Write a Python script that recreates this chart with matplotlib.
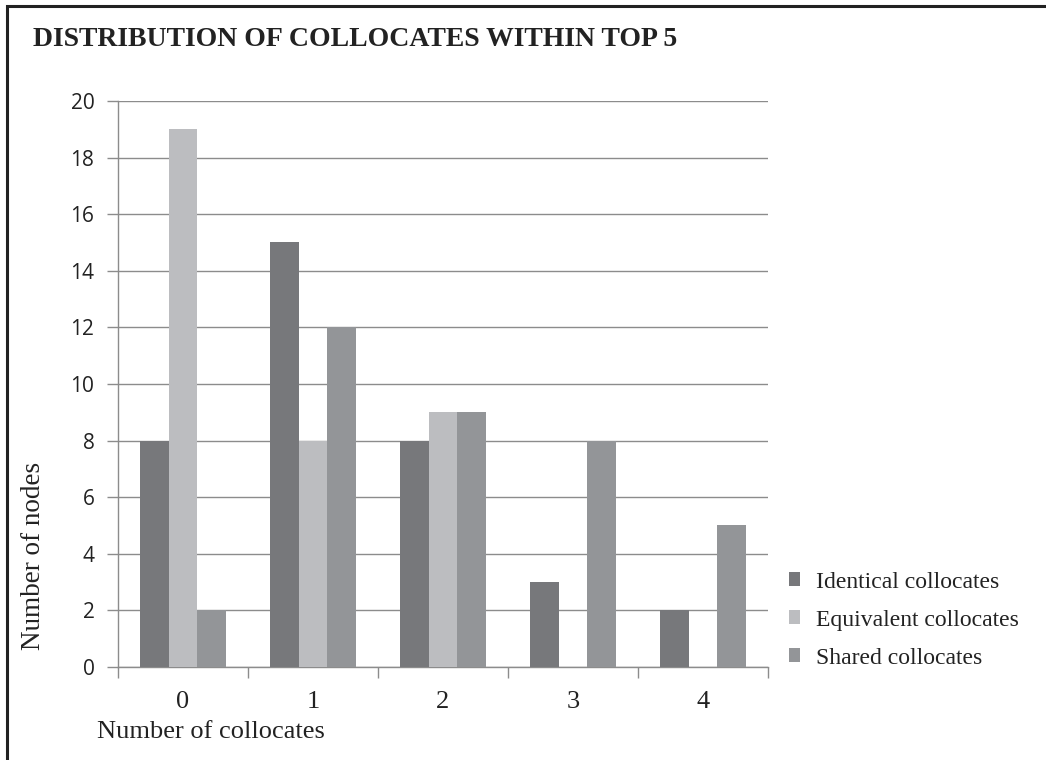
import numpy as np
import matplotlib.pyplot as plt
from matplotlib.patches import Rectangle

categories = ['0', '1', '2', '3', '4']
identical = [8, 15, 8, 3, 2]
equivalent = [19, 8, 9, 0, 0]
shared = [2, 12, 9, 8, 5]
series = ['Identical collocates', 'Equivalent collocates', 'Shared collocates']
colors = ['#77787b', '#bcbdc0', '#939598']

serif = 'Liberation Serif'
grid_col = '#8c8c8c'
text_col = '#222222'

fig = plt.figure(figsize=(10.46, 7.6), dpi=100)
ax = fig.add_axes([0.1128, 0.1224, 0.6214, 0.7447])

x = np.arange(len(categories))
w = 0.22
for i, (vals, lab, c) in enumerate(zip([identical, equivalent, shared], series, colors)):
    ax.bar(x + (i - 1) * w, vals, width=w, color=c, label=lab, zorder=3)

ax.set_xlim(-0.5, 4.5)
ax.set_ylim(0, 20)
ax.set_yticks(range(0, 21, 2))
ax.set_yticklabels([str(v) for v in range(0, 21, 2)], family='Open Sans', fontsize=15, color=text_col)
ax.yaxis.grid(True, color=grid_col, linewidth=1.0, zorder=0)
ax.tick_params(axis='y', length=8, color=grid_col, width=1.0, pad=9)

# category labels sit between the boundary ticks
ax.set_xticks(np.arange(-0.5, 5, 1))
ax.set_xticklabels([])
ax.tick_params(axis='x', length=8, color=grid_col, width=1.0)
ax.set_xticks(x, minor=True)
ax.set_xticklabels(categories, minor=True, family=serif, fontsize=19, color=text_col)
ax.tick_params(axis='x', which='minor', length=0, pad=17)

for s in ['top', 'right']:
    ax.spines[s].set_visible(False)
for s in ['left', 'bottom']:
    ax.spines[s].set_color(grid_col)
    ax.spines[s].set_linewidth(1.0)

fig.text(0.0315, 0.948, 'DISTRIBUTION OF COLLOCATES WITHIN TOP 5', family=serif,
         fontweight='bold', fontsize=20, color=text_col, va='center', ha='left')
fig.text(0.0927, 0.037, 'Number of collocates', family=serif, fontsize=19,
         color=text_col, va='center', ha='left')
fig.text(0.0325, 0.268, 'Number of nodes', family=serif, fontsize=19.5, rotation=90,
         color=text_col, va='center', ha='center')

ax.legend(loc='upper left', bbox_to_anchor=(0.754, 0.248), bbox_transform=fig.transFigure,
          frameon=False, prop={'family': serif, 'size': 17}, handlelength=0.5,
          handleheight=0.5, handletextpad=0.65, labelspacing=0.72, labelcolor=text_col,
          borderpad=0, borderaxespad=0)

# outer frame, its right and bottom sides fall outside the canvas
fig.patches.append(Rectangle((0.007, -0.05), 1.05, 1.042, transform=fig.transFigure,
                             fill=False, edgecolor=text_col, linewidth=2.2))

plt.savefig('out.png', dpi=100)
